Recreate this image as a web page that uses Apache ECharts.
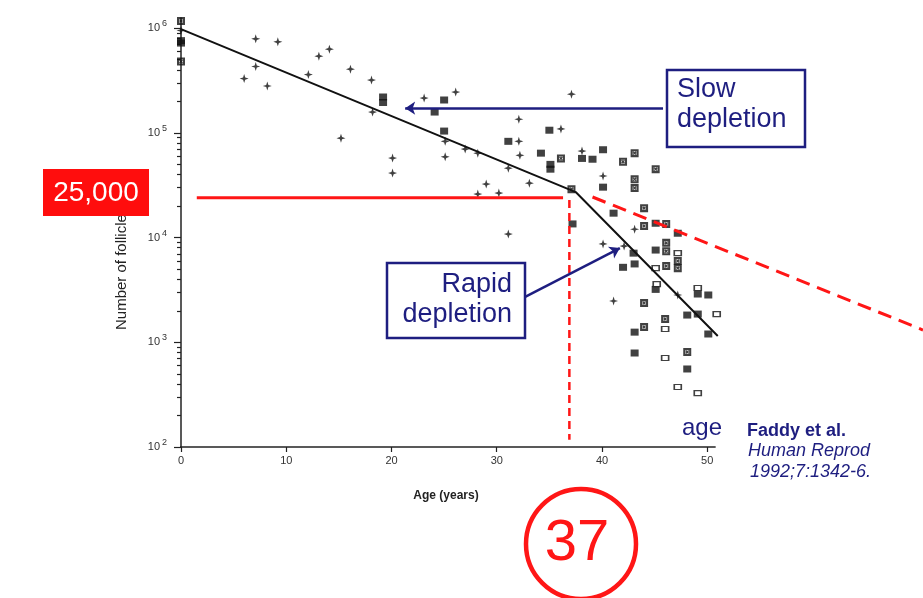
<!DOCTYPE html>
<html>
<head>
<meta charset="utf-8">
<script src="https://cdn.jsdelivr.net/npm/echarts@6/dist/echarts.min.js"></script>
<style>
  html, body { margin: 0; padding: 0; background: #fff; }
  #chart { width: 923px; height: 598px; }
</style>
</head>
<body>
<div id="chart"></div>
<script>
// tick values
var xTicks = [0, 10, 20, 30, 40, 50];
var yMajor = [100, 1000, 10000, 100000, 1000000];
var yMinor = [200, 300, 400, 500, 600, 700, 800, 900,
  2000, 3000, 4000, 5000, 6000, 7000, 8000, 9000,
  20000, 30000, 40000, 50000, 60000, 70000, 80000, 90000,
  200000, 300000, 400000, 500000, 600000, 700000, 800000, 900000];

// follicle counts [age, number]
var crossPts = [[0, 9.5e5], [6.0, 3.3e5], [7.1, 7.9e5], [7.1, 4.3e5], [8.2, 2.8e5], [9.2, 7.4e5],
  [12.1, 3.6e5], [13.1, 5.4e5], [14.1, 6.3e5], [15.2, 8.9e4], [16.1, 4.06e5], [18.1, 3.19e5],
  [18.2, 1.58e5], [20.1, 5.74e4], [20.1, 4.13e4], [23.1, 2.15e5], [26.1, 2.45e5], [25.1, 8.3e4],
  [25.1, 5.9e4], [27.0, 7.0e4], [28.2, 6.4e4], [28.2, 2.6e4], [29.0, 3.24e4], [30.2, 2.66e4],
  [31.1, 4.6e4], [31.1, 1.08e4], [32.1, 1.35e5], [32.1, 8.3e4], [32.2, 6.1e4], [33.1, 3.31e4],
  [36.1, 1.09e5], [37.1, 2.34e5], [38.1, 6.7e4], [40.1, 3.87e4], [40.1, 8.7e3], [42.1, 8.3e3],
  [43.1, 1.2e4], [41.1, 2.48e3], [47.2, 2.83e3]];
var filledPts = [[0, 7.2e5], [0, 7.6e5], [19.2, 2.2e5], [19.2, 1.95e5], [24.1, 1.58e5], [25.0, 2.06e5],
  [25.0, 1.04e5], [31.1, 8.3e4], [34.2, 6.4e4], [35.0, 1.06e5], [35.1, 4.5e4], [35.1, 5.0e4],
  [38.1, 5.7e4], [39.1, 5.6e4], [40.1, 6.9e4], [40.1, 3.03e4], [41.1, 1.71e4], [37.2, 1.35e4],
  [45.1, 1.37e4], [47.2, 1.1e4], [43.0, 7.1e3], [42.0, 5.2e3], [43.1, 5.6e3], [45.1, 7.6e3],
  [45.1, 3.2e3], [49.1, 2.89e3], [50.1, 2.83e3], [48.1, 1.82e3], [49.1, 1.86e3], [43.1, 1.25e3],
  [50.1, 1.2e3], [43.1, 790], [48.1, 556]];
var xboxPts = [[0, 1.17e6], [0, 4.8e5], [36.1, 5.7e4], [42.0, 5.3e4], [43.1, 6.4e4], [45.1, 4.5e4],
  [37.1, 2.9e4], [43.1, 3.6e4], [43.1, 2.97e4], [44.0, 1.91e4], [44.0, 1.29e4], [46.1, 1.35e4],
  [46.1, 8.9e3], [46.1, 7.4e3], [46.1, 5.35e3], [47.2, 5.97e3], [47.2, 5.1e3], [44.0, 2.37e3],
  [46.0, 1.67e3], [44.0, 1.4e3], [48.1, 807]];
var openPts = [[47.2, 7.1e3], [45.1, 5.1e3], [45.2, 3.6e3], [49.1, 3.3e3], [46.0, 1.34e3],
  [46.0, 708], [47.2, 374], [49.1, 327], [50.9, 1.86e3]];

// fitted model
var modelLine = [[0, 9.8e5], [37.5, 2.72e4], [51, 1150]];
// red guide lines
var level25k = [[1.5, 2.4e4], [36.3, 2.4e4]];
var age37 = [[36.9, 2.28e4], [36.9, 117]];
var slowTrend = [[39.1, 2.44e4], [70.5, 1310]];
// annotation arrows
var slowArrow = [[45.8, 1.72e5], [21.3, 1.72e5]];
var rapidArrow = [[32.1, 2530], [41.7, 7940]];
var xAxisLine = [[-0.6, 100], [50.8, 100]];

var navy = '#1e1e80';
var red = '#ff1616';
var font = 'Liberation Sans, Arial, sans-serif';

var crossSym = 'path://M5,0 L6.2,3.8 L10,5 L6.2,6.2 L5,10 L3.8,6.2 L0,5 L3.8,3.8 Z';
// square with an x inside, drawn mostly dark like the scanned marks
var xboxSym = 'path://M0,0 L10,0 L10,10 L0,10 Z M2.6,2.6 L2.6,7.4 L7.4,7.4 L7.4,2.6 Z M2.6,3.8 L3.8,2.6 L7.4,6.2 L6.2,7.4 Z M6.2,2.6 L7.4,3.8 L3.8,7.4 L2.6,6.2 Z';

var myChart = echarts.init(document.getElementById('chart'));

var option = {
    animation: false,
    grid: { left: 181, right: 0, top: 18, bottom: 151 },
    xAxis: {
        type: 'value',
        min: 0,
        max: 70.5,
        axisLine: { show: false },
        splitLine: { show: false },
        axisTick: { customValues: xTicks, length: 5, lineStyle: { color: '#222', width: 1.2 } },
        axisLabel: { customValues: xTicks, fontSize: 11, color: '#333', margin: 8, fontFamily: font }
    },
    yAxis: [{
        type: 'log',
        logBase: 10,
        min: 100,
        max: 1.25e6,
        axisLine: { show: true, lineStyle: { color: '#222', width: 1.5 } },
        splitLine: { show: false },
        axisTick: { customValues: yMajor, length: 7, lineStyle: { color: '#222', width: 1.2 } },
        axisLabel: {
            customValues: yMajor,
            margin: 14,
            formatter: function (v) {
                return '{b|10}{s|' + Math.round(Math.log(v) / Math.LN10) + '}';
            },
            rich: {
                b: { fontSize: 11, color: '#333', fontFamily: font },
                s: { fontSize: 9, color: '#333', fontFamily: font, padding: [0, 0, 9, 2] }
            }
        }
    }, {
        type: 'log',
        logBase: 10,
        min: 100,
        max: 1.25e6,
        position: 'left',
        axisLine: { show: false },
        splitLine: { show: false },
        axisTick: { customValues: yMinor, length: 4, lineStyle: { color: '#222', width: 1.2 } },
        axisLabel: { show: false }
    }],
    series: [{
        type: 'line', data: xAxisLine, symbol: 'none', clip: false, silent: true,
        lineStyle: { color: '#222', width: 1.5 }
    }, {
        type: 'scatter', data: crossPts, symbol: crossSym, symbolSize: 9, clip: false,
        itemStyle: { color: '#111' }
    }, {
        type: 'scatter', data: filledPts, symbol: 'rect', symbolSize: [8, 7], clip: false,
        itemStyle: { color: '#111' }
    }, {
        type: 'scatter', data: xboxPts, symbol: xboxSym, symbolSize: [8, 8], clip: false,
        itemStyle: { color: '#111' }
    }, {
        type: 'scatter', data: openPts, symbol: 'rect', symbolSize: [7, 5], clip: false,
        itemStyle: { color: '#fff', borderColor: '#111', borderWidth: 1.4 }
    }, {
        type: 'line', data: modelLine, symbol: 'none', clip: false,
        lineStyle: { color: '#111', width: 2 }
    }, {
        type: 'line', data: level25k, symbol: 'none',
        lineStyle: { color: red, width: 3 }
    }, {
        type: 'line', data: age37, symbol: 'none',
        lineStyle: { color: red, width: 2.5, type: [8, 5] }
    }, {
        type: 'line', data: slowTrend, symbol: 'none',
        lineStyle: { color: red, width: 3, type: [14, 8] }
    }, {
        type: 'lines', coordinateSystem: 'cartesian2d',
        symbol: ['none', 'arrow'], symbolSize: 10,
        lineStyle: { color: navy, width: 2.5, opacity: 1 },
        data: [{ coords: slowArrow }, { coords: rapidArrow }],
        z: 5
    }],
    graphic: [
        {
            type: 'text', x: 122, y: 330, rotation: Math.PI / 2, z: 10,
            style: { text: 'Number of follicles', fontSize: 15, fontFamily: font, fill: '#222',
                align: 'left', verticalAlign: 'middle' }
        },
        {
            type: 'rect', shape: { x: 43, y: 169, width: 106, height: 47 }, z: 20,
            style: { fill: '#ff0d0d' }
        },
        {
            type: 'text', x: 96, y: 193, z: 21,
            style: { text: '25,000', fontSize: 28, fontFamily: font, fill: '#fff',
                align: 'center', verticalAlign: 'middle' }
        },
        {
            type: 'rect', shape: { x: 667, y: 70, width: 138, height: 77 }, z: 20,
            style: { fill: '#fff', stroke: navy, lineWidth: 2.5 }
        },
        {
            type: 'text', x: 677, y: 75, z: 21,
            style: { text: 'Slow\ndepletion', fontSize: 27, lineHeight: 30, fontFamily: font,
                fill: navy, align: 'left', verticalAlign: 'top' }
        },
        {
            type: 'rect', shape: { x: 387, y: 263, width: 138, height: 75 }, z: 20,
            style: { fill: '#fff', stroke: navy, lineWidth: 2.5 }
        },
        {
            type: 'text', x: 512, y: 270, z: 21,
            style: { text: 'Rapid\ndepletion', fontSize: 27, lineHeight: 30, fontFamily: font,
                fill: navy, align: 'right', verticalAlign: 'top' }
        },
        {
            type: 'text', x: 682, y: 416, z: 21,
            style: { text: 'age', fontSize: 24, fontFamily: font, fill: navy,
                align: 'left', verticalAlign: 'top' }
        },
        {
            type: 'text', x: 747, y: 422, z: 21,
            style: { text: 'Faddy et al.', fontSize: 18, fontWeight: 'bold', fontFamily: font,
                fill: navy, align: 'left', verticalAlign: 'top' }
        },
        {
            type: 'text', x: 748, y: 442, z: 21,
            style: { text: 'Human Reprod', fontSize: 18, fontStyle: 'italic', fontFamily: font,
                fill: navy, align: 'left', verticalAlign: 'top' }
        },
        {
            type: 'text', x: 750, y: 463, z: 21,
            style: { text: '1992;7:1342-6.', fontSize: 18, fontStyle: 'italic', fontFamily: font,
                fill: navy, align: 'left', verticalAlign: 'top' }
        },
        {
            type: 'text', x: 446, y: 496, z: 21,
            style: { text: 'Age (years)', fontSize: 12, fontWeight: 'bold', fontFamily: font,
                fill: '#222', align: 'center', verticalAlign: 'middle' }
        },
        {
            type: 'circle', shape: { cx: 581, cy: 544, r: 55 }, z: 20,
            style: { fill: 'none', stroke: red, lineWidth: 4.5 }
        },
        {
            type: 'text', x: 577, y: 515, z: 21,
            style: { text: '37', fontSize: 58, fontFamily: font, fill: red,
                align: 'center', verticalAlign: 'top' }
        }
    ]
};

myChart.setOption(option);
</script>
</body>
</html>
